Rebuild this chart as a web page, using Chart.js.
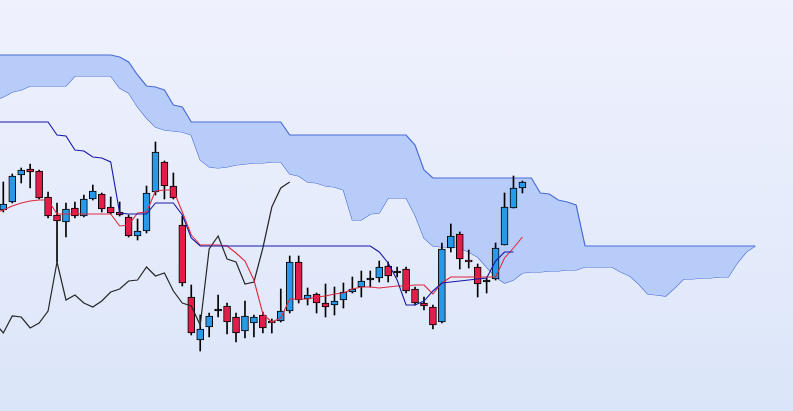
<!DOCTYPE html>
<html>

<head>
    <title>Ichimoku</title>
    <script src="https://cdn.jsdelivr.net/npm/chart.js"></script>
    <style>
        html, body { margin: 0; padding: 0; overflow: hidden; }
        body { background: linear-gradient(to bottom, #eff1fd 0%, #e6ecfb 50%, #dbe5f9 100%); }
        #wrap { width: 793px; height: 411px; position: relative; }
    </style>
</head>

<body>
    <div id="wrap"><canvas id="ichimokuChart"></canvas></div>

    <script>
        // candles, index 0..58
        const opens = [1790,1798,1825,1831,1829,1803,1785,1778,1792,1784,1801,1806,1793,1788,1783,1764,1769,1808,1838,1814,1775,1703,1660,1673,1689,1694,1683,1669,1677,1685,1679,1679,1689,1738,1701,1706,1697,1695,1700,1708,1713,1720,1722,1734,1727,1731,1711,1697,1693,1678,1752,1766,1740,1733,1718,1721,1755,1792,1812];
        const highs = [1818,1826,1832,1836,1830,1808,1797,1797,1798,1805,1815,1807,1803,1798,1785,1781,1814,1858,1839,1827,1784,1715,1685,1687,1705,1697,1687,1699,1685,1688,1681,1711,1744,1744,1712,1707,1716,1713,1717,1723,1729,1729,1739,1738,1733,1733,1713,1703,1695,1757,1776,1768,1750,1736,1722,1757,1807,1824,1819];
        const lows = [1788,1797,1817,1812,1801,1782,1738,1763,1782,1783,1800,1788,1786,1784,1763,1760,1767,1805,1801,1801,1714,1665,1649,1663,1683,1666,1658,1662,1663,1667,1667,1678,1687,1697,1695,1687,1683,1685,1692,1707,1703,1713,1718,1718,1723,1707,1695,1690,1671,1677,1748,1731,1732,1703,1707,1720,1755,1792,1807];
        const closes = [1796,1824,1830,1828,1802,1784,1779,1791,1784,1801,1809,1791,1787,1785,1764,1769,1807,1848,1814,1802,1717,1667,1671,1684,1689,1678,1667,1684,1683,1672,1677,1689,1738,1700,1705,1697,1693,1699,1708,1711,1719,1720,1733,1724,1727,1709,1697,1694,1675,1751,1764,1741,1738,1716,1718,1752,1793,1812,1818];

        // lines start one slot left of the first candle (index -1)
        const tenkan = [1787,1790,1794,1797,1799,1800,1800,1786,1786,1786,1786,1786,1786,1786,1774,1775,1787,1788,1809,1810,1810,1788,1765,1755,1755,1755,1754,1747,1739,1720,1686,1678,1682,1701,1701,1701,1703,1704,1706,1707,1711,1713,1713,1712,1713,1714,1714,1715,1715,1706,1717,1723,1723,1723,1723,1723,1723,1742,1752,1763];
        const kijun = [1878,1878,1878,1878,1878,1878,1878,1865,1864,1850,1849,1843,1842,1838,1787,1786,1786,1786,1797,1797,1797,1785,1762,1754,1754,1754,1754,1754,1754,1754,1754,1754,1754,1754,1754,1754,1754,1754,1754,1754,1754,1754,1754,1748,1737,1720,1695,1695,1699,1709,1717,1718,1719,1720,1721,1722,1739,1748,1748];
        const chikou = [1678,1667,1684,1683,1672,1677,1689,1738,1700,1705,1697,1693,1699,1708,1711,1719,1720,1733,1724,1727,1709,1697,1694,1675,1751,1764,1741,1738,1716,1718,1752,1793,1812,1818];
        const senkouA = [1900,1903,1908,1910,1914,1914,1914,1914,1914,1924,1924,1924,1924,1924,1912,1907,1893,1882,1873,1870,1869,1868,1865,1840,1833,1832,1833,1835,1836,1837,1837,1838,1838,1826,1824,1818,1817,1814,1813,1810,1780,1780,1786,1787,1802,1802,1802,1785,1762,1754,1753,1753,1752,1748,1743,1733,1723,1717,1720,1727,1728,1728,1729,1729,1730,1730,1733,1733,1733,1733,1728,1724,1716,1706,1705,1704,1712,1721,1721,1722,1722,1723,1723,1737,1748,1754];
        const senkouB = [1945,1945,1945,1945,1945,1945,1945,1945,1945,1945,1945,1945,1945,1945,1943,1938,1925,1914,1913,1910,1895,1893,1878,1878,1878,1878,1878,1878,1878,1878,1878,1878,1878,1865,1865,1865,1865,1865,1865,1865,1865,1865,1865,1865,1865,1865,1865,1855,1830,1822,1822,1822,1822,1822,1822,1822,1822,1822,1822,1822,1822,1807,1806,1800,1798,1795,1754,1754,1754,1754,1754,1754,1754,1754,1754,1754,1754,1754,1754,1754,1754,1754,1754,1754,1754,1754];

        const UP = '#2898e8', DOWN = '#e31d4a';

        const pts = arr => arr.map((v, i) => ({ x: i - 1, y: v }));
        const bodies = opens.map((o, i) => ({ x: i, y: [o, closes[i]] }));
        const wicks = lows.map((l, i) => ({ x: i, y: [l, highs[i]] }));
        const bodyColors = opens.map((o, i) => closes[i] > o ? UP : closes[i] < o ? DOWN : '#000');

        const lineDs = (label, data, color, width, order) => ({
            type: 'line', label: label, data: pts(data), borderColor: color, borderWidth: width,
            pointRadius: 0, fill: false, tension: 0, order: order
        });

        const ctx = document.getElementById('ichimokuChart').getContext('2d');
        new Chart(ctx, {
            type: 'line',
            data: {
                datasets: [
                    Object.assign(lineDs('Senkou B', senkouB, '#4a6cd6', 1.2, 5), { fill: '+1', backgroundColor: '#b8ccf9' }),
                    lineDs('Senkou A', senkouA, '#4a6cd6', 1.2, 5),
                    {
                        type: 'bar', label: 'wick', data: wicks, backgroundColor: '#000',
                        barThickness: 1, grouped: false, order: 4
                    },
                    {
                        type: 'bar', label: 'body', data: bodies, backgroundColor: bodyColors,
                        borderColor: '#000', borderWidth: 1, borderSkipped: false,
                        barThickness: 7, minBarLength: 2, grouped: false, order: 3
                    },
                    lineDs('Chikou', chikou, '#262626', 1.2, 2),
                    lineDs('Tenkan', tenkan, '#e0283c', 1.1, 1),
                    lineDs('Kijun', kijun, '#1818a8', 1.1, 0)
                ]
            },
            options: {
                responsive: true,
                maintainAspectRatio: false,
                animation: false,
                layout: { padding: 0 },
                plugins: { legend: { display: false }, tooltip: { enabled: false } },
                scales: {
                    x: { type: 'linear', min: -0.37, max: 88.23, offset: false, display: false },
                    y: { min: 1589, max: 2000, display: false }
                }
            }
        });
    </script>
</body>

</html>
